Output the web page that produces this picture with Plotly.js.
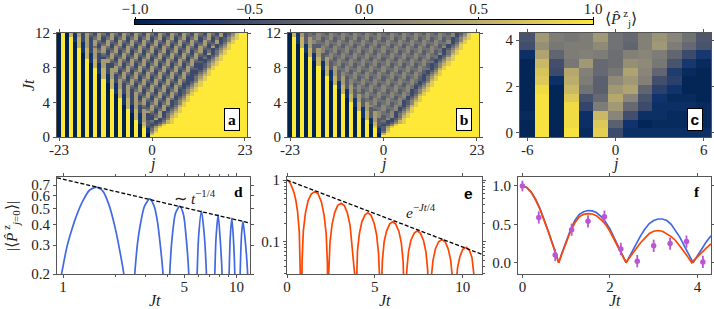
<!DOCTYPE html>
<html><head><meta charset="utf-8">
<script src="https://cdn.plot.ly/plotly-3.0.1.min.js"></script>
<style>html,body{margin:0;padding:0;background:#fff}#c{width:714px;height:309px}</style>
</head><body><div id="c"></div>
<script>
// digit codes per cell: 0 = -1 ... 9 = +1, rows bottom to top, columns j=-23..23
const panelARows = [
"09090909090909090909090 9 99999999999999999999999",
"09090909090909090909090 7 99999999999999999999999",
"0909090909090909090909 1 5 8 9999999999999999999999",
"0909090909090909090909 1 4 7 9999999999999999999999",
"090909090909090909090 8 2 3 6 8 999999999999999999999",
"090909090909090909090 7 3 2 3 5 8 99999999999999999999",
"09090909090909090909 1 7 3 3 2 3 5 7 8 999999999999999999",
"09090909090909090909 1 6 3 4 2 2 4 7 8 999999999999999999",
"0909090909090909090 71 62 26 2358 999999999999999999",
"0909090909090909090 71 62 246 2478 99999999999999999",
"0909090909090909090 71 62 336 2468 99999999999999999",
"090909090909090909 17 26 6426 23578 9999999999999999",
"090909090909090909 17 26 46246 2468 9999999999999999",
"09090909090909090 71 62 336336 2358 9999999999999999",
"09090909090909090 71 62 4264264 2478 999999999999999",
"0909090909090909 17 26 46246246 2358 999999999999999",
"0909090909090909 17 26 36336336 23578 99999999999999",
"0909090909090909 17 26 264264264 2468 99999999999999",
"090909090909090 71 62 6246246246 2358 99999999999999",
"090909090909090 71 62 63363363363 2478 9999999999999",
"09090909090909 17 26 264264264264 2358 9999999999999",
"09090909090909 17 26 246246246246 23578 999999999999",
"0909090909090 71 62 63363363363363 2468 999999999999",
"0909090909090 71 62 64264264264264 23578 99999999999",
"0909090909090 71 62 462462462462462 2478 99999999999",
"090909090909 17 26 3363363363363363 2358 99999999999",
"090909090909 17 26 42642642642642642 2478 9999999999",
"09090909090 71 62 462462462462462462 2468 9999999999",
"09090909090 71 62 363363363363363363 23578 999999999",
"0909090909 17 26 42642642642642642642 2468 999999999",
"0909090909 17 26 62462462462462462462 2358 999999999",
"0909090909 17 26 633633633633633633633 2478 99999999",
"090909090 71 62 2642642642642642642642 2358 99999999",
"090909090 71 62 2462462462462462462462 23578 9999999",
"09090909 17 26 633633633633633633633633 2468 9999999",
"09090909 17 26 642642642642642642642642 23578 999999",
"0909090 71 62 24624624624624624624624624 2478 999999",
"0909090 71 62 33633633633633633633633633 2358 999999",
"0909090 71 62 426426426426426426426426426 2478 99999",
"090909 17 26 4624624624624624624624624624 2468 99999",
"090909 17 26 3633633633633633633633633633 23578 9999",
"09090 71 62 426426426426426426426426426426 2468 9999",
"09090 71 62 624624624624624624624624624624 2358 9999",
"09090 71 62 6336336336336336336336336336336 2478 999",
"0909 17 26 26426426426426426426426426426426 2358 999",
"0909 17 26 24624624624624624624624624624624 23578 99",
"090 71 62 6336336336336336336336336336336336 2468 99",
"090 71 62 6426426426426426426426426426426426 2358 99"
];
const panelBRows = [
"09090909090909090909090 9 99999999999999999999999",
"09090909090909090909090 7 99999999999999999999999",
"0909090909090909090909 1 4 8 9999999999999999999999",
"0909090909090909090909 1 3 7 9999999999999999999999",
"090909090909090909090 8 2 3 6 8 999999999999999999999",
"090909090909090909090 7 3 2 3 5 8 99999999999999999999",
"09090909090909090909 1 7 3 3 2 3 5 7 8 999999999999999999",
"09090909090909090909 1 6 3 4 2 2 4 7 8 999999999999999999",
"0909090909090909090 71 63 35 2358 999999999999999999",
"090909090909090909 17 36 5345 2478 99999999999999999",
"090909090909090909 17 36 5445 2468 99999999999999999",
"090909090909090909 17 36 5435 23578 9999999999999999",
"09090909090909090 71 63 345345 2468 9999999999999999",
"09090909090909090 71 63 445445 2358 9999999999999999",
"0909090909090909 17 36 54354354 2478 999999999999999",
"0909090909090909 17 36 45345345 2358 999999999999999",
"090909090909090 71 63 445445445 23578 99999999999999",
"090909090909090 71 63 4354354354 2468 99999999999999",
"09090909090909 17 36 45345345345 2358 99999999999999",
"09090909090909 17 36 454454454454 2478 9999999999999",
"0909090909090 71 63 4354354354354 2358 9999999999999",
"0909090909090 71 63 5345345345345 23578 999999999999",
"090909090909 17 36 454454454454454 2468 999999999999",
"090909090909 17 36 354354354354354 23578 99999999999",
"09090909090 71 63 53453453453453453 2478 99999999999",
"09090909090 71 63 54454454454454454 2358 99999999999",
"0909090909 17 36 3543543543543543543 2478 9999999999",
"0909090909 17 36 3453453453453453453 2468 9999999999",
"090909090 71 63 54454454454454454454 23578 999999999",
"090909090 71 63 543543543543543543543 2468 999999999",
"090909090 71 63 453453453453453453453 2358 999999999",
"09090909 17 36 44544544544544544544544 2478 99999999",
"09090909 17 36 43543543543543543543543 2358 99999999",
"0909090 71 63 453453453453453453453453 23578 9999999",
"0909090 71 63 4544544544544544544544544 2468 9999999",
"090909 17 36 43543543543543543543543543 23578 999999",
"090909 17 36 534534534534534534534534534 2478 999999",
"09090 71 63 4544544544544544544544544544 2358 999999",
"09090 71 63 35435435435435435435435435435 2478 99999",
"0909 17 36 534534534534534534534534534534 2468 99999",
"0909 17 36 544544544544544544544544544544 23578 9999",
"090 71 63 35435435435435435435435435435435 2468 9999",
"090 71 63 34534534534534534534534534534534 2358 9999",
"09 17 36 5445445445445445445445445445445445 2478 999",
"09 17 36 5435435435435435435435435435435435 2358 999",
"09 17 36 4534534534534534534534534534534534 23578 99",
"0 71 63 445445445445445445445445445445445445 2468 99",
"0 71 63 435435435435435435435435435435435435 2358 99"
];
// panel c values, rows t=0, 0.375, ... bottom to top, columns j=-6..6
const panelCValues = [
[-.95,.95,-.95,.95,-.9,.8,-.55,-.85,-.85,-.85,-.85,-.85,-.85],
[-.95,.95,-.95,.9,-.85,.75,-.3,-.8,-.95,-.9,-.9,-.9,-.9],
[-.9,.95,-.95,.9,-.85,.6,.1,-.5,-.85,-.85,-.9,-.9,-.9],
[-.95,.95,-.95,.9,-.6,0,.3,-.2,-.55,-.85,-.85,-.85,-.9],
[-.95,.95,-.95,.75,-.45,-.2,.45,.1,-.45,-.8,-.9,-.9,-.95],
[-.95,.9,-.95,.6,-.1,-.3,.3,.4,-.25,-.65,-.8,-.95,-.95],
[-.95,.75,-.85,.5,0,-.3,.15,.3,.05,-.5,-.65,-.95,-.95],
[-.95,.7,-.55,.45,.05,-.2,-.05,.4,.1,-.25,-.7,-.9,-.95],
[-.95,.6,-.5,-.05,.3,-.2,-.15,.2,.15,-.05,-.45,-.75,-.9],
[-.85,.4,-.25,0,.05,0,-.15,.05,.1,0,-.25,-.55,-.75],
[-.5,.2,-.05,0,0,.15,-.1,-.25,.05,.3,0,-.2,-.45],
[-.45,.3,0,-.05,0,.3,-.1,-.2,.05,.25,.1,-.1,-.4]
];
const colorbarLevels = [-1,-.9,-.8,-.7,-.6,-.5,-.4,-.3,-.2,-.1,0,.1,.2,.3,.4,.5,.6,.7,.8,.9,1];
const panelDTime = [.9,.98,1.05,1.12,1.2,1.3,1.42,1.56,1.7,1.85,2,2.12,2.24,2.32,2.4,2.5,2.59,2.68,2.8,2.95,3.16,3.35,3.5,3.65,3.77,3.9,4,4.05,4.12,4.25,4.45,4.71,4.95,5.12,5.31,5.45,5.6,5.8,5.93,6.05,6.28,6.5,6.71,6.9,7.2,7.35,7.5,7.62,7.84,8.05,8.26,8.4,8.75,8.9,9.07,9.2,9.4,9.6,9.78,9.9,10.2,10.35,10.5,10.7,10.9,11.2,11.6,11.8];
const panelDValue = [.13,.2,.29,.37,.46,.56,.65,.68,.64,.52,.38,.28,.2,.13,.03,.12,.2,.3,.41,.52,.575,.52,.42,.29,.2,.08,.03,.12,.2,.33,.47,.52,.46,.34,.2,.06,.03,.08,.2,.34,.485,.36,.2,.04,.03,.08,.2,.33,.46,.33,.2,.06,.03,.08,.2,.33,.44,.33,.2,.05,.03,.08,.2,.35,.42,.33,.2,.05];
const panelDEnvTime = [.923,11.96];
const panelDEnv = [.775,.41];
const panelETime = [0,.1,.2,.3,.4,.5,.6,.7,.75,.8,.82,.86,.93,1.05,1.2,1.39,1.58,1.77,1.96,2.11,2.23,2.3,2.34,2.38,2.45,2.57,2.72,2.89,3.08,3.27,3.44,3.59,3.7,3.85,3.9,3.94,4.01,4.12,4.26,4.44,4.6,4.78,4.96,5.1,5.21,5.28,5.33,5.37,5.43,5.53,5.67,5.85,6.02,6.19,6.37,6.51,6.61,6.68,6.72,6.76,6.82,6.92,7.06,7.24,7.42,7.6,7.77,7.91,8.01,8.07,8.11,8.15,8.21,8.31,8.45,8.63,8.82,9,9.18,9.32,9.42,9.48,9.52,9.56,9.62,9.71,9.84,10,10.2,10.38,10.53,10.64,10.72,10.78,10.8];
const panelEValue = [1,.955,.876,.766,.63,.477,.312,.143,.058,.02,.005,.05,.15,.295,.46,.6,.645,.6,.44,.27,.135,.045,.005,.033,.1,.195,.3,.39,.42,.385,.29,.185,.09,.03,.005,.023,.07,.135,.21,.273,.295,.27,.2,.13,.065,.022,.005,.017,.05,.1,.15,.195,.21,.193,.147,.095,.048,.016,.004,.012,.035,.07,.107,.138,.15,.137,.105,.068,.034,.012,.003,.009,.026,.05,.077,.1,.109,.1,.076,.05,.025,.008,.002,.007,.02,.038,.057,.075,.081,.073,.055,.036,.018,.006,.002];
const panelEEnvTime = [0,11.1];
const panelEEnv = [1,.0624];
const panelFTime = [0,.1,.2,.3,.4,.5,.6,.7,.8,.83,.9,1,1.1,1.2,1.3,1.4,1.5,1.6,1.7,1.8,1.9,2,2.1,2.2,2.3,2.37,2.4,2.5,2.6,2.7,2.8,2.9,3,3.1,3.2,3.3,3.4,3.5,3.6,3.7,3.8,3.87,3.9,4,4.1,4.2,4.31];
const panelFBlue = [1,.98,.92,.83,.71,.56,.4,.23,.05,0,.12,.29,.43,.55,.63,.665,.68,.675,.65,.6,.53,.44,.32,.2,.07,0,.03,.14,.25,.35,.44,.51,.55,.57,.57,.55,.5,.42,.33,.22,.11,.02,0,.09,.18,.27,.35];
const panelFRed = [1,.98,.92,.82,.7,.55,.39,.22,.04,0,.11,.27,.41,.52,.6,.63,.64,.635,.61,.56,.5,.41,.3,.19,.07,0,.03,.11,.19,.26,.32,.38,.41,.42,.41,.38,.34,.29,.22,.14,.06,0,.02,.08,.14,.19,.245];
const expTime = [0,.375,.75,1.125,1.5,1.875,2.25,2.625,3,3.375,3.75,4.125];
const expValue = [1,.59,.1,.43,.54,.6,.18,.02,.22,.25,.275,.01];
const expError = [.07,.08,.08,.08,.08,.08,.08,.08,.08,.08,.08,.08];

const cividis = [[0,"#00224e"],[.111,"#123570"],[.222,"#3b496c"],[.333,"#575d6d"],[.444,"#707173"],[.556,"#8a8678"],[.667,"#a59c74"],[.778,"#c3b369"],[.889,"#e1cc55"],[1,"#fee838"]];
const W=714,H=309,serif='"Liberation Serif", serif',ink='#222',spine='#555';
const decode = rows => rows.map(r => r.replace(/ /g,'').padEnd(47,'9').slice(0,47).split('').map(d => -1 + 2*(+d)/9));
const dx = (l,r) => [l/W,r/W], dy = (t,b) => [1-b/H,1-t/H];
function ax(extra){return Object.assign({showline:true,mirror:'allticks',linecolor:spine,linewidth:1,ticks:'outside',ticklen:3,tickwidth:1,tickcolor:spine,showgrid:false,zeroline:false,tickfont:{family:serif,size:15,color:ink}},extra);}
const xax = extra => ax(Object.assign({ticklabelstandoff:-4},extra));
const traces=[
{type:'heatmap',z:[colorbarLevels,colorbarLevels],x:colorbarLevels,y:[0,1],xaxis:'x7',yaxis:'y7',colorscale:cividis,zmin:-1,zmax:1,showscale:false,zsmooth:'best'},
{type:'heatmap',z:decode(panelARows),x0:-23,dx:1,y0:.125,dy:.25,xaxis:'x',yaxis:'y',colorscale:cividis,zmin:-1,zmax:1,showscale:false},
{type:'heatmap',z:decode(panelBRows),x0:-23,dx:1,y0:.125,dy:.25,xaxis:'x2',yaxis:'y2',colorscale:cividis,zmin:-1,zmax:1,showscale:false},
{type:'heatmap',z:panelCValues,x0:-6,dx:1,y0:0,dy:.375,xaxis:'x3',yaxis:'y3',colorscale:cividis,zmin:-1,zmax:1,showscale:false},
{type:'scatter',mode:'lines',x:panelDTime,y:panelDValue,xaxis:'x4',yaxis:'y4',line:{color:'#4169e1',width:1.7,shape:'spline',smoothing:.7}},
{type:'scatter',mode:'lines',x:panelDEnvTime,y:panelDEnv,xaxis:'x4',yaxis:'y4',line:{color:'#000',width:1.3,dash:'4px,2px'}},
{type:'scatter',mode:'lines',x:panelETime,y:panelEValue,xaxis:'x5',yaxis:'y5',line:{color:'#ff4500',width:1.7}},
{type:'scatter',mode:'lines',x:panelEEnvTime,y:panelEEnv,xaxis:'x5',yaxis:'y5',line:{color:'#000',width:1.3,dash:'4px,2px'}},
{type:'scatter',mode:'lines',x:panelFTime,y:panelFBlue,xaxis:'x6',yaxis:'y6',line:{color:'#4169e1',width:1.7}},
{type:'scatter',mode:'lines',x:panelFTime,y:panelFRed,xaxis:'x6',yaxis:'y6',line:{color:'#ff4500',width:1.7}},
{type:'scatter',mode:'markers',x:expTime,y:expValue,xaxis:'x6',yaxis:'y6',marker:{color:'#ba55d3',size:5.5},error_y:{type:'data',array:expError,visible:true,thickness:1.8,width:0,color:'#ba55d3'}}
];
const note=(text,x,y,font,extra)=>Object.assign({text,xref:'paper',yref:'paper',x:x/W,y:1-y/H,xanchor:'center',yanchor:'middle',showarrow:false,font},extra||{});
const sans='"Liberation Sans", sans-serif';
const label=(t,x,y,fam)=>note('<b>'+t+'</b>',x,y,{family:fam,size:15.5,color:'#000'});
const boxed=(t,x,y,fam)=>note('<b>'+t+'</b>',x,y,{family:fam,size:15.5,color:'#000'},{bgcolor:'#fff',bordercolor:'#000',borderwidth:1,width:14,height:21,borderpad:0,valign:'middle',align:'center'});
const mathFont={family:serif,size:15.5,color:ink};
const titleFont={family:serif,size:16,color:ink};
const layout={width:W,height:H,margin:{l:0,r:0,t:0,b:0,autoexpand:false},paper_bgcolor:'#fff',plot_bgcolor:'#fff',showlegend:false,
xaxis:xax({domain:dx(57,247),range:[-23.5,23.5],tickvals:[-23,0,23],ticktext:['-23','0','23'],anchor:'y'}),
yaxis:ax({domain:dy(33,137),range:[0,12],tickvals:[0,4,8,12],anchor:'x'}),
xaxis2:xax({domain:dx(288,479),range:[-23.5,23.5],tickvals:[-23,0,23],ticktext:['-23','0','23'],anchor:'y2'}),
yaxis2:ax({domain:dy(33,137),range:[0,12],tickvals:[0,4,8,12],anchor:'x2'}),
xaxis3:xax({domain:dx(520,711),range:[-6.5,6.5],tickvals:[-6,0,6],ticktext:['-6','0','6'],anchor:'y3'}),
yaxis3:ax({domain:dy(33,137),range:[-.1875,4.3125],tickvals:[0,2,4],anchor:'x3'}),
xaxis4:xax({domain:dx(57,250),type:'log',range:[-.035,1.078],tickvals:[1,5,10],ticktext:['1','5','10'],anchor:'y4',minor:{ticks:'outside',ticklen:2,tickcolor:spine,tickvals:[2,3,4,6,7,8,9]}}),
yaxis4:ax({domain:dy(177,274),type:'log',range:[-.699,-.106],tickvals:[.2,.3,.4,.5,.6,.7],ticktext:['0.2','0.3','0.4','0.5','0.6','0.7'],anchor:'x4'}),
xaxis5:xax({domain:dx(287,482),range:[0,11.1],tickvals:[0,5,10],anchor:'y5'}),
yaxis5:ax({domain:dy(177,274),type:'log',range:[-1.523,.05],tickvals:[.1,1],ticktext:['0.1','1'],anchor:'x5',minor:{ticks:'outside',ticklen:2,tickcolor:spine,tickvals:[.03,.04,.05,.06,.07,.08,.09,.2,.3,.4,.5,.6,.7,.8,.9]}}),
xaxis6:xax({domain:dx(518,711),range:[-.1,4.31],tickvals:[0,2,4],anchor:'y6'}),
yaxis6:ax({domain:dy(177,274),range:[-.147,1.117],tickvals:[0,.5,1],ticktext:['0.0','0.5','1.0'],anchor:'x6'}),
xaxis7:ax({domain:dx(135,593),range:[-1,1],side:'top',tickvals:[-1,-.5,0,.5,1],tickformat:'.1f',anchor:'y7',mirror:true,linecolor:'#000',tickcolor:'#000',ticklen:2,ticklabelstandoff:-3}),
yaxis7:{domain:dy(20,24),range:[0,1],anchor:'x7',showline:true,mirror:true,linecolor:'#000',linewidth:1,ticks:'',showticklabels:false,showgrid:false,zeroline:false},
annotations:[
boxed('a',232,119,serif),boxed('b',464,119,serif),boxed('c',695,119,sans),
label('d',238,192,serif),label('e',468,193,sans),label('f',697,192,serif),
note('<i>j</i>',152,164,titleFont),note('<i>j</i>',383,164,titleFont),note('<i>j</i>',615,164,titleFont),
note('<i>Jt</i>',29,85,titleFont,{textangle:-90}),
note('<i>Jt</i>',155,300,titleFont),note('<i>Jt</i>',385,300,titleFont),note('<i>Jt</i>',615,300,titleFont),
note('∼ <i>t</i><sup>−1/4</sup>',195,197,mathFont),
note('<i>e</i><sup>−<i>Jt</i>/4</sup>',421,211,mathFont),
note('⟨<i>P̂</i><sup> z</sup><sub>j</sub>⟩',621,18,mathFont),
note('|⟨<i>P̂</i><sup> z</sup><sub><i>j</i>=0</sub>⟩|',11,226,mathFont,{textangle:-90})
]};
Plotly.newPlot('c',traces,layout,{displayModeBar:false,staticPlot:true});
</script></body></html>
